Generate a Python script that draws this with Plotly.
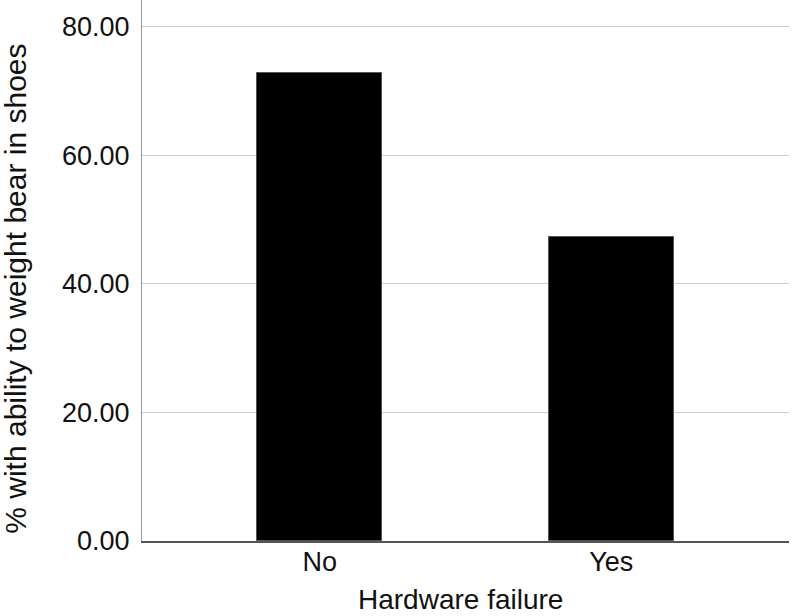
import plotly.graph_objects as go

categories = ["No", "Yes"]
values = [72.84, 47.3]
y_ticks = [0, 20, 40, 60, 80]
y_tick_labels = ["0.00", "20.00", "40.00", "60.00", "80.00"]
x_title = "Hardware failure"
y_title = "% with ability to weight bear in shoes"

FONT = "Liberation Sans, Arial, Helvetica, sans-serif"

fig = go.Figure(
    go.Bar(
        x=categories,
        y=values,
        width=0.43,
        marker=dict(color="black", line=dict(color="#555555", width=1)),
    )
)

fig.update_layout(
    width=792,
    height=616,
    margin=dict(l=142, r=3, t=0, b=75, autoexpand=False),
    plot_bgcolor="white",
    paper_bgcolor="white",
    font=dict(family=FONT, size=27, color="#111111"),
    showlegend=False,
    bargap=0,
)

fig.update_xaxes(
    range=[-0.61, 1.61],
    showline=True,
    linecolor="#555555",
    linewidth=1.5,
    showgrid=False,
    ticks="",
    automargin=False,
    ticklabelstandoff=-4,
    tickfont=dict(size=27),
)

fig.update_yaxes(
    range=[0, 84.2],
    tickvals=y_ticks,
    ticktext=y_tick_labels,
    showline=True,
    linecolor="#999999",
    linewidth=1,
    showgrid=True,
    gridcolor="#cccccc",
    gridwidth=1,
    zeroline=False,
    ticks="",
    automargin=False,
    ticklabelstandoff=6,
    tickfont=dict(size=27),
)

fig.add_annotation(
    text=y_title,
    xref="paper",
    yref="paper",
    x=-0.195,
    y=0.466,
    xanchor="center",
    yanchor="middle",
    textangle=-90,
    showarrow=False,
    font=dict(size=30, family=FONT, color="#111111"),
)

fig.add_annotation(
    text=x_title,
    xref="paper",
    yref="paper",
    x=0.4915,
    y=-0.139,
    xanchor="center",
    yanchor="bottom",
    borderpad=0,
    showarrow=False,
    font=dict(size=28, family=FONT, color="#111111"),
)

fig.write_html(
    "out.html",
    config={"displayModeBar": False},
    post_script="document.body.style.margin='0';document.body.style.overflow='hidden';",
)
